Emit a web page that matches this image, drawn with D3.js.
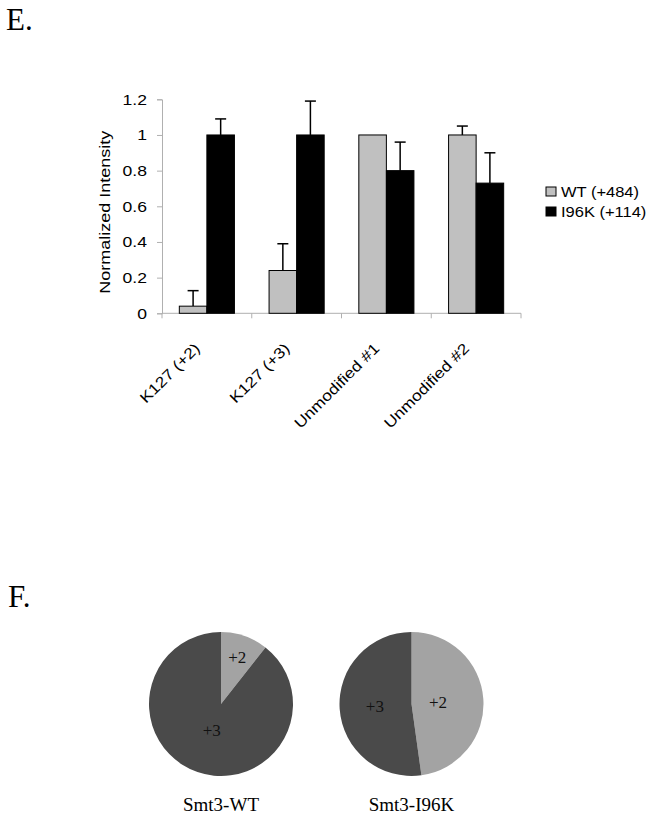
<!DOCTYPE html>
<html>
<head>
<meta charset="utf-8">
<script src="https://cdn.jsdelivr.net/npm/d3@7"></script>
<style>
  html, body { margin: 0; padding: 0; background: #fff; }
  svg { display: block; }
</style>
</head>
<body>
<svg id="chart" width="654" height="825"></svg>
<script>
// ---- Data ----
const categories = ["K127 (+2)", "K127 (+3)", "Unmodified #1", "Unmodified #2"];
const seriesNames = ["WT (+484)", "I96K (+114)"];
const wtValues = [0.04, 0.24, 1.0, 1.0];
const wtErrors = [0.087, 0.15, 0, 0.05];
const i96kValues = [1.0, 1.0, 0.80, 0.73];
const i96kErrors = [0.09, 0.19, 0.16, 0.17];
const yTicks = [0, 0.2, 0.4, 0.6, 0.8, 1, 1.2];

const pieNames = ["Smt3-WT", "Smt3-I96K"];
const pieLabels = ["+2", "+3"];
const pieWT = [10.6, 89.4];
const pieI96K = [47.8, 52.2];

// ---- Styles ----
const barColors = ["#c0c0c0", "#000000"];
const pieColors = ["#a3a3a3", "#4a4a4a"];
const sans = "'Liberation Sans', Arial, sans-serif";
const serif = "'Liberation Serif', 'Times New Roman', serif";
const wide = 1.17; // horizontal stretch of the chart's sans text

const svg = d3.select("#chart");

// Panel letters
svg.append("text").attr("x", 6).attr("y", 30)
  .style("font-family", serif).style("font-size", "31px").text("E.");
svg.append("text").attr("x", 8).attr("y", 607)
  .style("font-family", serif).style("font-size", "31px").text("F.");

// ---- Bar chart ----
const plot = { left: 162, right: 521, top: 99.3, bottom: 313.3 };
const x0 = d3.scaleBand().domain(categories).range([plot.left, plot.right]).padding(0);
const bw = x0.bandwidth();
const x1 = d3.scaleBand().domain(seriesNames).range([bw * 0.193, bw * 0.807]).padding(0);
const y = d3.scaleLinear().domain([0, 1.2]).range([plot.bottom, plot.top]);

const rows = categories.map((c, i) => ({
  cat: c,
  vals: [
    { s: seriesNames[0], v: wtValues[i], e: wtErrors[i], idx: 0 },
    { s: seriesNames[1], v: i96kValues[i], e: i96kErrors[i], idx: 1 }
  ]
}));

// Y axis
const yAxis = d3.axisLeft(y).tickValues(yTicks).tickSize(5).tickPadding(10)
  .tickFormat(d => d3.format("")(d));
const gy = svg.append("g").attr("transform", `translate(${plot.left},0)`).call(yAxis);
gy.select(".domain").attr("stroke", "#b0b0b0");
gy.selectAll(".tick line").attr("stroke", "#b0b0b0");
gy.selectAll(".tick text")
  .attr("x", 0)
  .attr("transform", `translate(-15,0) scale(${wide},1)`)
  .style("font-family", sans).style("font-size", "15px").attr("fill", "#000");

// X axis (category boundaries ticks)
svg.append("line").attr("x1", plot.left).attr("x2", plot.right)
  .attr("y1", plot.bottom).attr("y2", plot.bottom).attr("stroke", "#b0b0b0");
const boundaries = categories.map(c => x0(c)).concat([plot.right]);
svg.selectAll(".xtick").data(boundaries).enter().append("line")
  .attr("x1", d => d).attr("x2", d => d)
  .attr("y1", plot.bottom).attr("y2", plot.bottom + 5).attr("stroke", "#b0b0b0");

// X labels
svg.selectAll(".xlab").data(categories).enter().append("text")
  .attr("transform", d => `translate(${x0(d) + bw / 2 - 6},${plot.bottom + 36}) rotate(-45) scale(${wide},1)`)
  .attr("text-anchor", "end")
  .style("font-family", sans).style("font-size", "15px").text(d => d);

// Y title
svg.append("text")
  .attr("transform", `translate(110,${(plot.top + plot.bottom) / 2 + 6}) rotate(-90) scale(1.2,1)`)
  .attr("text-anchor", "middle")
  .style("font-family", sans).style("font-size", "15px").text("Normalized Intensity");

// Bars
const groups = svg.selectAll(".grp").data(rows).enter().append("g")
  .attr("transform", d => `translate(${x0(d.cat)},0)`);

groups.selectAll(".err").data(d => d.vals.filter(v => v.e > 0)).enter().append("g")
  .each(function (d) {
    const g = d3.select(this);
    const cx = x1(d.s) + x1.bandwidth() / 2;
    g.append("line").attr("x1", cx).attr("x2", cx)
      .attr("y1", y(d.v)).attr("y2", y(d.v + d.e)).attr("stroke", "#000").attr("stroke-width", 1.5);
    g.append("line").attr("x1", cx - 5.5).attr("x2", cx + 5.5)
      .attr("y1", y(d.v + d.e)).attr("y2", y(d.v + d.e)).attr("stroke", "#000").attr("stroke-width", 1.5);
  });

groups.selectAll("rect").data(d => d.vals).enter().append("rect")
  .attr("x", d => x1(d.s))
  .attr("y", d => y(d.v))
  .attr("width", x1.bandwidth())
  .attr("height", d => y(0) - y(d.v))
  .attr("fill", d => barColors[d.idx])
  .attr("stroke", "#000").attr("stroke-width", 1);

// Legend
const legend = svg.append("g").attr("transform", "translate(546,187)");
seriesNames.forEach((s, i) => {
  legend.append("rect").attr("x", 0).attr("y", i * 20).attr("width", 10).attr("height", 9)
    .attr("fill", barColors[i]).attr("stroke", "#000").attr("stroke-width", 1);
  legend.append("text")
    .attr("transform", `translate(15,${i * 20 + 10}) scale(1.1,1)`)
    .style("font-family", sans).style("font-size", "15px").text(s);
});

// ---- Pies ----
const pieData = [pieWT, pieI96K];
const pieCenters = [221, 411.5];
const pieCy = 704;
const R = 72;
const labelRadius = [[0.69, 0.39], [0.37, 0.51]];
const pie = d3.pie().sort(null).value(d => d);

pieData.forEach((vals, p) => {
  const g = svg.append("g").attr("transform", `translate(${pieCenters[p]},${pieCy})`);
  const arcs = pie(vals);
  g.selectAll("path").data(arcs).enter().append("path")
    .attr("d", d3.arc().innerRadius(0).outerRadius(R))
    .attr("fill", (d, i) => pieColors[i]);
  g.selectAll(".pl").data(arcs).enter().append("text")
    .attr("transform", (d, i) => {
      const r = R * labelRadius[p][i];
      const c = d3.arc().innerRadius(r).outerRadius(r).centroid(d);
      return `translate(${c[0]},${c[1]})`;
    })
    .attr("text-anchor", "middle").attr("dy", "0.35em")
    .style("font-family", serif).style("font-size", "17px").attr("fill", "#111")
    .text((d, i) => pieLabels[i]);
  svg.append("text").attr("x", pieCenters[p]).attr("y", 811)
    .attr("text-anchor", "middle")
    .style("font-family", serif).style("font-size", "19px").text(pieNames[p]);
});
</script>
</body>
</html>
